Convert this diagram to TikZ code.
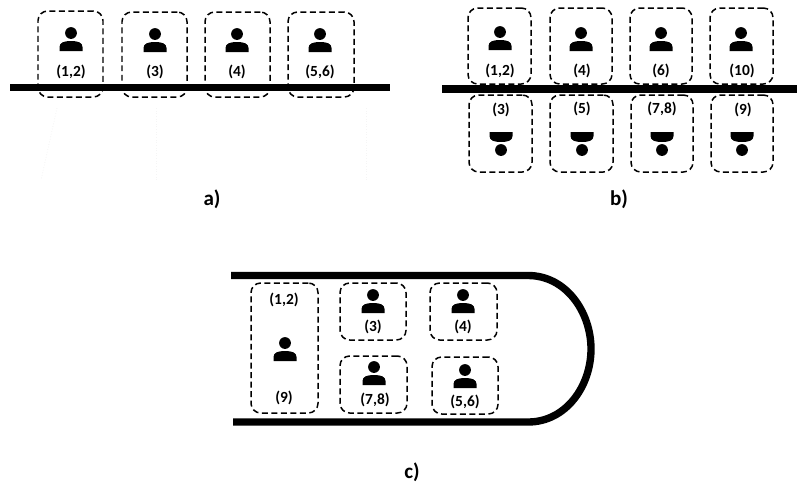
\documentclass[tikz,border=0pt]{standalone}
\usepackage{fontspec}
\setmainfont{Carlito}
\usetikzlibrary{positioning}
\tikzstyle{cell}=[draw=black,dashed,dash pattern=on 3.4pt off 2pt,line width=0.85pt,
                rounded corners=5.5pt,inner sep=0pt]
\tikzstyle{seat label}=[font=\fontsize{8.8}{10}\selectfont\bfseries,inner sep=0pt]
\tikzstyle{caption}=[font=\fontsize{12}{14}\selectfont\bfseries,inner sep=0pt]
\tikzstyle{wall}=[line width=4.2pt,black]
\tikzstyle{ghost}=[black!4,line width=0.5pt,densely dotted]
\tikzset{person/.pic={
  \fill (0,-18) circle (5.9);
  \fill (-11.5,0) -- (-11.5,-4) .. controls (-11.5,-8.5) and (-7,-10) .. (0,-10)
    .. controls (7,-10) and (11.5,-8.5) .. (11.5,-4) -- (11.5,0) -- cycle;
}}
\newcommand{\CELL}[5]{\node[cell,minimum width=#3*0.02cm,minimum height=#4*0.02cm] (#5) at (#1,#2) {};}

\begin{document}
\begin{tikzpicture}[x=0.02cm,y=-0.02cm]
\useasboundingbox (0,0) rectangle (797,481);

\draw[ghost] (57,108) -- (41,180);
\draw[ghost] (156,108) -- (156,180);
\draw[ghost] (366,108) -- (366,180);
\draw[wall] (10,87.5) -- (390,87.5);
\CELL{70.5}{54}{65}{86}{a12}
\CELL{154.5}{54.5}{65}{85}{a3}
\CELL{237.5}{54.5}{65}{85}{a4}
\CELL{321}{54.5}{66}{85}{a56}
\pic at (71,51) {person};
\pic at (155,52) {person};
\pic at (237,52) {person};
\pic at (320,52) {person};
\node[seat label] (la12) at (71,72) {(1,2)};
\node[seat label] (la3) at (155,72) {(3)};
\node[seat label] (la4) at (237,72) {(4)};
\node[seat label] (la56) at (320,72) {(5,6)};
\node[caption] (capa) at (212,199) {a)};

\draw[wall] (442,89) -- (797,89);
\CELL{499.5}{46}{63}{76}{b12}
\CELL{581}{46}{62}{76}{b4}
\CELL{661}{46}{62}{76}{b6}
\CELL{741.5}{46}{63}{76}{b10}
\CELL{500.5}{133.5}{63}{77}{b3}
\CELL{581.5}{133.5}{63}{77}{b5}
\CELL{662}{133.5}{62}{77}{b78}
\CELL{742}{133.5}{62}{77}{b9}
\pic at (500,50) {person};
\pic at (581,51) {person};
\pic at (661,51) {person};
\pic at (741,51) {person};
\pic[yscale=-1] at (501,132) {person};
\pic[yscale=-1] at (582,132) {person};
\pic[yscale=-1] at (662,132) {person};
\pic[yscale=-1] at (742,132) {person};
\node[seat label] (lb12) at (500,71) {(1,2)};
\node[seat label] (lb4) at (582,71) {(4)};
\node[seat label] (lb6) at (661,71) {(6)};
\node[seat label] (lb10) at (742,71) {(10)};
\node[seat label] (lb3) at (501,110) {(3)};
\node[seat label] (lb5) at (582,109) {(5)};
\node[seat label] (lb78) at (662,109) {(7,8)};
\node[seat label] (lb9) at (743,110) {(9)};
\node[caption] (capb) at (619,199) {b)};

\draw[wall] (231,275.5) -- (528,275.5) .. controls (566,275.5) and (591,312) .. (591,349)
  .. controls (591,386) and (566,422) .. (528,422) -- (233,422);
\CELL{284.5}{348}{67}{130}{c19}
\CELL{373}{311.5}{66}{57}{c3}
\CELL{463.5}{311.5}{67}{57}{c4}
\CELL{373.5}{384.5}{67}{57}{c78}
\CELL{465}{385.5}{66}{57}{c56}
\pic at (285,361) {person};
\pic at (373,313) {person};
\pic at (463,313) {person};
\pic at (374,385) {person};
\pic at (465,388) {person};
\node[seat label] (lc12) at (284,300) {(1,2)};
\node[seat label] (lc9) at (284,398) {(9)};
\node[seat label] (lc3) at (373,327) {(3)};
\node[seat label] (lc4) at (463,327) {(4)};
\node[seat label] (lc78) at (375,400) {(7,8)};
\node[seat label] (lc56) at (465,402) {(5,6)};
\node[caption] (capc) at (412,472) {c)};
\end{tikzpicture}
\end{document}
